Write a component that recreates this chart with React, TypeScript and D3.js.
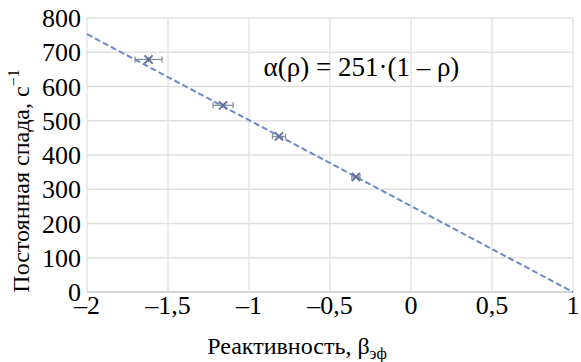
import * as d3 from 'd3';

// measured points: reactivity, decay constant, x error, y error
const reactivity = [-1.62, -1.16, -0.815, -0.34];
const decay = [679, 545, 454, 336];
const xErr = [0.083, 0.062, 0.04, 0.025];
const yErr = [8, 6, 6, 5];

const xTicks = [-2, -1.5, -1, -0.5, 0, 0.5, 1];
const yTicks = [0, 100, 200, 300, 400, 500, 600, 700, 800];

// fit line alpha(rho) = 251 * (1 - rho)
const fitCoef = 251;
const fitRange = [-2, 1];

const FONT = "'Liberation Serif', 'Times New Roman', serif";
const fmt = (v: number) => (v < 0 ? '\u2013' : '') + String(Math.abs(v)).replace('.', ',');

export default function App() {
  const margin = { top: 18, left: 87 };
  const w = 573 - margin.left;
  const h = 292 - margin.top;

  const x = d3.scaleLinear().domain([-2, 1]).range([0, w]);
  const y = d3.scaleLinear().domain([0, 800]).range([h, 0]);

  const line = d3.line<number>()
    .x(d => x(d))
    .y(d => y(fitCoef * (1 - d)));

  const marker = d3.symbol(d3.symbolTimes, 45)() as string;
  const pts = reactivity.map((r, i) => ({ r, a: decay[i], ex: xErr[i], ey: yErr[i] }));

  return (
    <svg width={581} height={362} style={{ position: 'absolute', left: 0, top: 0, fontFamily: FONT }}>
      <g transform={`translate(${margin.left},${margin.top})`}>
        {/* grid */}
        {yTicks.map(t => (
          <line key={'gy' + t} x1={0} x2={w} y1={y(t)} y2={y(t)}
            stroke={t === 0 ? '#c8c8c8' : '#e0e0e0'} strokeWidth={1.3} />
        ))}
        {xTicks.map(t => (
          <line key={'gx' + t} x1={x(t)} x2={x(t)} y1={0} y2={h} stroke="#e0e0e0" strokeWidth={1.3} />
        ))}

        {/* tick labels */}
        {yTicks.map(t => (
          <text key={'ly' + t} x={-6} y={y(t)} dy="0.35em" textAnchor="end" fontSize={26}
            style={{ fontFamily: FONT }}>{t}</text>
        ))}
        {xTicks.map(t => (
          <text key={'lx' + t} x={x(t)} y={h + 22} textAnchor="middle" fontSize={26}
            style={{ fontFamily: FONT }}>{fmt(t)}</text>
        ))}

        {/* fit line */}
        <path d={line(fitRange) as string} fill="none" stroke="#6a8bc8" strokeWidth={2} strokeDasharray="6,3" />

        {/* error bars */}
        <g stroke="#8a8fa0" strokeWidth={1.3}>
          {pts.map((p, i) => (
            <g key={'e' + i}>
              <line x1={x(p.r - p.ex)} x2={x(p.r + p.ex)} y1={y(p.a)} y2={y(p.a)} />
              <line x1={x(p.r - p.ex)} x2={x(p.r - p.ex)} y1={y(p.a) - 3} y2={y(p.a) + 3} />
              <line x1={x(p.r + p.ex)} x2={x(p.r + p.ex)} y1={y(p.a) - 3} y2={y(p.a) + 3} />
              <line x1={x(p.r)} x2={x(p.r)} y1={y(p.a - p.ey)} y2={y(p.a + p.ey)} />
            </g>
          ))}
        </g>

        {/* markers */}
        {pts.map((p, i) => (
          <path key={'m' + i} d={marker} transform={`translate(${x(p.r)},${y(p.a)})`}
            fill="none" stroke="#5a6f9e" strokeWidth={1.8} />
        ))}

        {/* equation */}
        <text x={x(-0.91)} y={58} fontSize={27} style={{ fontFamily: FONT }}>
          {'\u03b1(\u03c1) = 251\u00b7(1 \u2013 \u03c1)'}
        </text>
      </g>

      {/* x axis title */}
      <text x={297} y={354} textAnchor="middle" fontSize={24} style={{ fontFamily: FONT }}>
        <tspan>{'Реактивность, \u03b2'}</tspan>
        <tspan dy={5} fontSize={16}>эф</tspan>
      </text>

      {/* y axis title */}
      <text transform="translate(29,181) rotate(-90)" textAnchor="middle" fontSize={24} style={{ fontFamily: FONT }}>
        <tspan>Постоянная спада, с</tspan>
        <tspan dy={-10} fontSize={16}>{'\u22121'}</tspan>
      </text>
    </svg>
  );
}
